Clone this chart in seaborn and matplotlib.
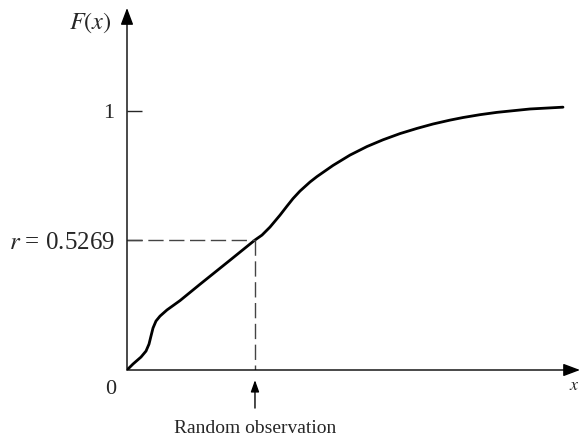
import matplotlib
matplotlib.use("Agg")
import matplotlib.pyplot as plt
import seaborn as sns
import pandas as pd

# ---- data ----
curve_x = [0.000, 0.133, 0.311, 0.422, 0.489, 0.533, 0.578, 0.644, 0.733, 0.889,
           1.178, 1.622, 2.289, 2.844, 3.000, 3.178, 3.400, 3.556, 3.689, 3.844,
           4.067, 4.222, 4.578, 4.956, 5.333, 5.689, 6.067, 6.444, 6.800, 7.178,
           7.467, 7.844, 8.222, 8.956, 9.689]
curve_y = [0.000, 0.023, 0.050, 0.073, 0.100, 0.131, 0.162, 0.189, 0.208, 0.232,
           0.268, 0.331, 0.424, 0.502, 0.521, 0.552, 0.598, 0.633, 0.662, 0.691,
           0.726, 0.747, 0.790, 0.830, 0.863, 0.889, 0.913, 0.933, 0.950, 0.965,
           0.975, 0.986, 0.995, 1.008, 1.015]
obs_x = 2.844          # random observation on the x axis
r_y = 0.502            # height of r on the drawn axis
tick_values = [1.0, r_y]
tick_labels = ["1", r"$r$ = 0.5269"]
y_label = r"$F(x)$"
x_label = r"$x$"
origin_label = "0"
obs_label = "Random observation"

df = pd.DataFrame({"x": curve_x, "y": curve_y})

sns.set_style("white")
plt.rcParams["font.family"] = ["Liberation Serif", "DejaVu Serif"]
plt.rcParams["mathtext.fontset"] = "stix"

fig = plt.figure(figsize=(5.8, 4.38), dpi=100)
ax = fig.add_axes([127 / 580, 68 / 438, 453 / 580, 362 / 438])
ax.set_xlim(0, 10.067)
ax.set_ylim(0, 1.398)
for s in ax.spines.values():
    s.set_visible(False)

sns.lineplot(data=df, x="x", y="y", sort=False, estimator=None, ax=ax,
             color="black", linewidth=2.0, solid_capstyle="round",
             solid_joinstyle="round")

# dashed guides
ax.plot([0, obs_x], [r_y, r_y], color="#444444", lw=1.0, dashes=(11, 4))
ax.plot([obs_x, obs_x], [r_y, 0], color="#444444", lw=1.0, dashes=(11, 4))

# axes with arrows
arrow_kw = dict(arrowstyle="-|>,head_length=0.85,head_width=0.32",
                color="black", lw=1.0, mutation_scale=12, shrinkA=0, shrinkB=0)
ax.annotate("", xy=(1, 0), xytext=(0, 0), xycoords="axes fraction",
            arrowprops=arrow_kw, annotation_clip=False)
ax.annotate("", xy=(0, 1), xytext=(0, 0), xycoords="axes fraction",
            arrowprops=arrow_kw, annotation_clip=False)

# ticks
ax.set_xticks([])
ax.set_yticks(tick_values)
ax.set_yticklabels(tick_labels)
ax.tick_params(axis="y", direction="in", length=11, width=1.0, pad=9,
               labelsize=16, left=True)
ax.get_yticklabels()[1].set_fontsize(18)
ax.set_xlabel("")
ax.set_ylabel("")

# labels
ax.text(-0.82, 1.34, y_label, fontsize=17.5, ha="center", va="center")
ax.text(-0.36, -0.077, origin_label, fontsize=16, ha="center", va="center")
ax.text(10.06, -0.06, x_label, fontsize=13, ha="right", va="center",
        clip_on=False)

# random observation arrow + label
ax.annotate("", xy=(obs_x, -0.039), xytext=(obs_x, -0.147), xycoords="data",
            arrowprops=dict(arrowstyle="-|>,head_length=0.7,head_width=0.25",
                            color="black", lw=1.0, mutation_scale=10,
                            shrinkA=0, shrinkB=0),
            annotation_clip=False)
ax.text(obs_x, -0.225, obs_label, fontsize=14, ha="center", va="center")

fig.savefig("out.png", dpi=100)
